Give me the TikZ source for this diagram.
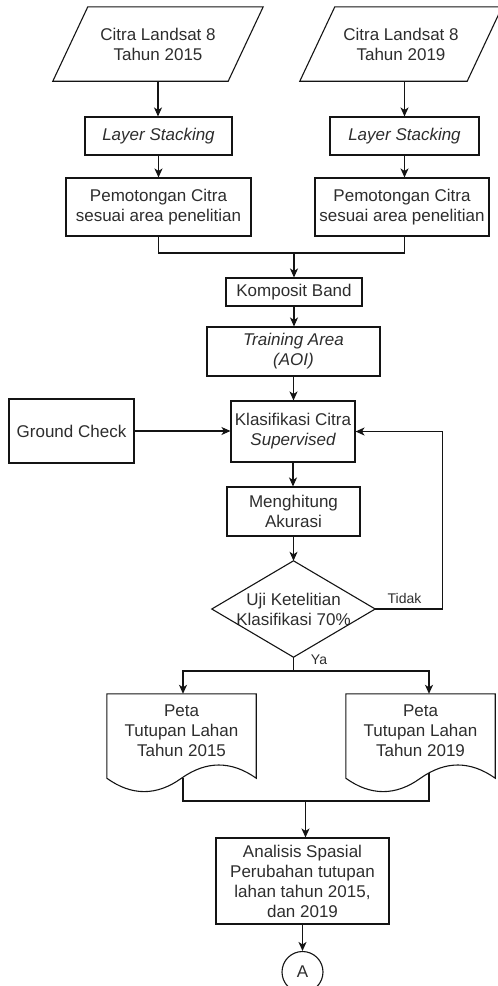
\documentclass[tikz,border=0pt]{standalone}
\usepackage{fontspec}
\setmainfont{Liberation Sans}
\usetikzlibrary{arrows.meta,calc}

\definecolor{inkline}{RGB}{20,20,20}
\definecolor{inktext}{RGB}{45,45,45}

% document shape: flat top, wavy bottom hanging 10pt below the node's south side
\newcommand\drawdocument[1]{%
  \draw[line] (#1.north west) -- (#1.north east) -- ($(#1.south east)+(0,10)$)
    .. controls ($(#1.south east)+(-24.83,-7.6)$) and ($(#1.south)+(24.83,-7.6)$) .. ($(#1.south)+(0,10)$)
    .. controls ($(#1.south)+(-24.83,27.87)$) and ($(#1.south west)+(24.83,27.87)$) .. ($(#1.south west)+(0,10)$)
    -- cycle;}

\begin{document}
\begin{tikzpicture}[x=1pt,y=-1pt,
  line/.style={draw=inkline,line width=1.1pt},
  txt/.style={text=inktext,font=\fontsize{17}{20}\selectfont,align=center,inner sep=0pt},
  box/.style={txt,line,rectangle},
  ghost/.style={txt,rectangle,draw=none},
  lbl/.style={text=inktext,font=\fontsize{14}{16}\selectfont,inner sep=0pt},
  arr/.style={line,-{Stealth[length=9pt,width=8pt,inset=2.5pt]}}]

\useasboundingbox (0,0) rectangle (498,986);

% input data
\node[ghost,minimum width=175,minimum height=74] (p1) at (158,44) {Citra Landsat 8\\Tahun 2015};
\node[ghost,minimum width=167,minimum height=74] (p2) at (401,44) {Citra Landsat 8\\Tahun 2019};
\foreach \n in {p1,p2}
  \draw[line] ([xshift=-17.5pt]\n.south west) -- ([xshift=-17.5pt]\n.south east)
              -- ([xshift=17.5pt]\n.north east) -- ([xshift=17.5pt]\n.north west) -- cycle;

% preprocessing
\node[box,minimum width=147,minimum height=38] (ls1) at (158.5,136) {\itshape Layer Stacking};
\node[box,minimum width=149,minimum height=38] (ls2) at (404.5,136) {\itshape Layer Stacking};
\node[box,minimum width=185,minimum height=58] (pc1) at (158.5,207) {Pemotongan Citra\\sesuai area penelitian};
\node[box,minimum width=174,minimum height=58] (pc2) at (402,207) {Pemotongan Citra\\sesuai area penelitian};

\node[box,minimum width=136,minimum height=28] (kb) at (294,292) {Komposit Band};
\node[box,minimum width=173,minimum height=49] (ta) at (293.5,351.5) {\itshape Training Area\\\itshape (AOI)};
\node[box,minimum width=124,minimum height=61] (kc) at (293,431.5) {Klasifikasi Citra\\\itshape Supervised};
\node[box,minimum width=125,minimum height=64] (gc) at (71.5,431) {Ground Check};
\node[box,minimum width=133,minimum height=49] (mh) at (293.5,511.5) {Menghitung\\Akurasi};

% decision
\node[ghost,minimum width=163,minimum height=96] (dm) at (293.5,609) {Uji Ketelitian\\Klasifikasi 70\%};
\draw[line] (dm.north) -- (dm.east) -- (dm.south) -- (dm.west) -- cycle;
\node[lbl] (tidak) at (404.5,598) {Tidak};
\node[lbl] (ya) at (319,660) {Ya};

% outputs
\node[ghost,minimum width=149,minimum height=74] (d1) at (181.5,731) {Peta\\Tutupan Lahan\\Tahun 2015};
\node[ghost,minimum width=149,minimum height=74] (d2) at (420.5,731) {Peta\\Tutupan Lahan\\Tahun 2019};
\drawdocument{d1}
\drawdocument{d2}

\node[box,minimum width=173,minimum height=86] (an) at (302.5,881) {Analisis Spasial\\Perubahan tutupan\\lahan tahun 2015,\\dan 2019};
\node[txt,line,circle,minimum size=41] (ca) at (302.5,972) {A};

% connectors
\draw[arr] (p1.south) -- (p1.south |- ls1.north);
\draw[arr] (p2.south -| ls2.north) -- (ls2.north);
\draw[arr] (ls1.south) -- (ls1.south |- pc1.north);
\draw[arr] (ls2.south) -- (ls2.south |- pc2.north);

\coordinate (mg) at (294,253);
\draw[line] (pc1.south) |- (mg);
\draw[line] (ls2.south |- pc2.south) |- (mg);
\draw[arr] (mg) -- (mg |- kb.north);
\draw[arr] (kb.south) -- (kb.south |- ta.north);
\draw[arr] (ta.south) -- (ta.south |- kc.north);
\draw[arr] (gc.east) -- (gc.east -| kc.west);
\draw[arr] (kc.south) -- (kc.south |- mh.north);
\draw[arr] (mh.south) -- (mh.south |- dm.north);

\coordinate (fb) at (442.5,609);
\draw[arr] (dm.east) -- (fb) |- (kc.east);

\coordinate (ys) at (293.5,671);
\draw[line] (dm.south) -- (ys);
\draw[arr] (ys) -| ([xshift=1.5pt]d1.north);
\draw[arr] (ys) -| ([xshift=8.5pt]d2.north);

\coordinate (mb) at (305.5,801);
\draw[line] ([xshift=1.5pt,yshift=-10pt]d1.south) |- (mb);
\draw[line] ([xshift=8.5pt,yshift=-5pt]d2.south) |- (mb);
\draw[arr] (mb) -- (mb |- an.north);
\draw[arr] (an.south) -- (ca.north);

\end{tikzpicture}
\end{document}
